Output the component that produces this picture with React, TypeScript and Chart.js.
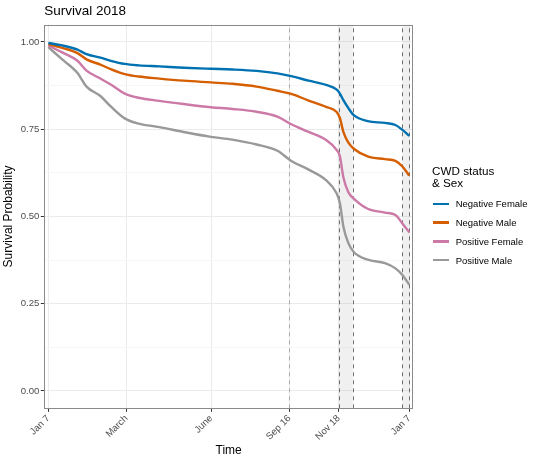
import React, { useEffect, useRef } from "react";
import { Chart, registerables } from "chart.js";

Chart.register(...registerables);

// ---- data (x in weeks since Jan 7, 2018) ----
const weeks = [0, 2, 4.2, 5.5, 7.5, 9, 11, 13, 16, 19.5, 23.4, 26.5, 30, 33, 35, 37.5, 40, 41.5, 42, 42.5, 43.2, 44, 46, 48.5, 50, 51, 52];
const negativeFemale = [0.997, 0.99, 0.978, 0.965, 0.955, 0.946, 0.937, 0.933, 0.93, 0.926, 0.923, 0.921, 0.917, 0.91, 0.902, 0.889, 0.877, 0.864, 0.852, 0.833, 0.811, 0.79, 0.773, 0.768, 0.762, 0.748, 0.731];
const negativeMale = [0.994, 0.983, 0.968, 0.95, 0.935, 0.922, 0.908, 0.901, 0.895, 0.889, 0.884, 0.88, 0.872, 0.86, 0.851, 0.832, 0.814, 0.8, 0.782, 0.742, 0.712, 0.694, 0.672, 0.664, 0.659, 0.643, 0.617];
const positiveFemale = [0.99, 0.97, 0.946, 0.918, 0.895, 0.878, 0.852, 0.84, 0.831, 0.822, 0.813, 0.808, 0.8, 0.786, 0.764, 0.742, 0.719, 0.691, 0.672, 0.612, 0.57, 0.551, 0.522, 0.511, 0.504, 0.48, 0.454];
const positiveMale = [0.985, 0.95, 0.911, 0.872, 0.845, 0.815, 0.781, 0.766, 0.756, 0.742, 0.728, 0.72, 0.706, 0.688, 0.659, 0.634, 0.604, 0.567, 0.538, 0.471, 0.424, 0.398, 0.376, 0.366, 0.351, 0.332, 0.304];

const seriesNames = ["Negative Female", "Negative Male", "Positive Female", "Positive Male"];
const seriesColors = ["#0072B2", "#D55E00", "#CC79A7", "#999999"];
const seriesValues = [negativeFemale, negativeMale, positiveFemale, positiveMale];

const xTickValues = [0, 11.24, 23.44, 34.72, 41.83, 52];
const xTickLabels = ["Jan 7", "March", "June", "Sep 16", "Nov 18", "Jan 7"];
const yTickValues = [0, 0.125, 0.25, 0.375, 0.5, 0.625, 0.75, 0.875, 1];

const lightLines = [34.72];
const darkLines = [41.83, 43.85, 51.0, 52.0];
const bandStarts = [41.83, 51.0];
const bandEnds = [43.85, 52.0];

const FONT = "'Liberation Sans', Arial, Helvetica, sans-serif";

const isMajor = (v: number) => Math.abs(v * 4 - Math.round(v * 4)) < 1e-9;

const annotationPlugin = {
  id: "annots",
  beforeDatasetsDraw(chart: any) {
    const { ctx, chartArea, scales } = chart;
    const x = scales.x;
    ctx.save();
    ctx.beginPath();
    ctx.rect(chartArea.left, chartArea.top, chartArea.right - chartArea.left, chartArea.bottom - chartArea.top);
    ctx.clip();
    ctx.fillStyle = "rgba(150,150,150,0.14)";
    bandStarts.forEach((s, i) => {
      const a = x.getPixelForValue(s);
      const b = x.getPixelForValue(bandEnds[i]);
      ctx.fillRect(a, chartArea.top, b - a, chartArea.bottom - chartArea.top);
    });
    ctx.lineWidth = 1;
    ctx.setLineDash([4, 4]);
    const drawV = (v: number, color: string) => {
      const px = Math.round(x.getPixelForValue(v)) + 0.5;
      ctx.strokeStyle = color;
      ctx.beginPath();
      ctx.moveTo(px, chartArea.bottom);
      ctx.lineTo(px, chartArea.top);
      ctx.stroke();
    };
    lightLines.forEach((v) => drawV(v, "#a8a8a8"));
    darkLines.forEach((v) => drawV(v, "#6e6e6e"));
    ctx.restore();
  },
  afterDraw(chart: any) {
    const { ctx, chartArea } = chart;
    ctx.save();
    ctx.strokeStyle = "#8a8a8a";
    ctx.lineWidth = 1;
    ctx.strokeRect(
      Math.round(chartArea.left) + 0.5,
      Math.round(chartArea.top) + 0.5,
      Math.round(chartArea.right - chartArea.left) - 1,
      Math.round(chartArea.bottom - chartArea.top) - 1
    );
    ctx.restore();
  },
};

export default function App() {
  const ref = useRef<HTMLCanvasElement | null>(null);

  useEffect(() => {
    if (!ref.current) return;
    const chart = new Chart(ref.current, {
      type: "line",
      data: {
        datasets: seriesNames.map((name, i) => ({
          label: name,
          data: weeks.map((w, j) => ({ x: w, y: seriesValues[i][j] })),
          borderColor: seriesColors[i],
          backgroundColor: seriesColors[i],
          borderWidth: 2.4,
          pointRadius: 0,
          cubicInterpolationMode: "monotone" as const,
          fill: false,
        })),
      },
      options: {
        animation: false,
        responsive: false,
        devicePixelRatio: 1,
        layout: { padding: { top: 24.5, right: 127, bottom: 0, left: 0 } },
        plugins: {
          legend: { display: false },
          tooltip: { enabled: false },
          title: { display: false },
        },
        scales: {
          x: {
            type: "linear",
            min: -0.58,
            max: 52.53,
            afterFit: (s: any) => {
              s.height = 54.7;
            },
            afterBuildTicks: (s: any) => {
              s.ticks = xTickValues.map((v) => ({ value: v }));
            },
            border: { display: false },
            grid: {
              color: "#ebebeb",
              lineWidth: 1,
              tickLength: 3.5,
              tickColor: "#333333",
            },
            ticks: {
              autoSkip: false,
              minRotation: 45,
              maxRotation: 45,
              padding: 1,
              color: "#4d4d4d",
              font: { family: FONT, size: 9.6 },
              callback: (v: any) => {
                const i = xTickValues.findIndex((t) => Math.abs(t - Number(v)) < 1e-6);
                return i >= 0 ? xTickLabels[i] : "";
              },
            },
            title: {
              display: true,
              text: "Time",
              color: "#000000",
              font: { family: FONT, size: 12 },
              padding: { top: 0, bottom: 4.8 },
            },
          },
          y: {
            type: "linear",
            min: -0.05,
            max: 1.05,
            afterFit: (s: any) => {
              s.width = 44.3;
            },
            afterBuildTicks: (s: any) => {
              s.ticks = yTickValues.map((v) => ({ value: v }));
            },
            border: { display: false },
            grid: {
              color: (c: any) => (c.tick && isMajor(c.tick.value) ? "#ebebeb" : "#f6f6f6"),
              lineWidth: 1,
              tickLength: 3.5,
              tickColor: (c: any) => (c.tick && isMajor(c.tick.value) ? "#333333" : "rgba(0,0,0,0)"),
            },
            ticks: {
              autoSkip: false,
              padding: 1.5,
              color: "#4d4d4d",
              font: { family: FONT, size: 9.6 },
              callback: (v: any) => (isMajor(Number(v)) ? Number(v).toFixed(2) : ""),
            },
            title: {
              display: true,
              text: "Survival Probability",
              color: "#000000",
              font: { family: FONT, size: 12 },
              padding: { top: 1, bottom: 0 },
            },
          },
        },
      },
      plugins: [annotationPlugin],
    });
    return () => chart.destroy();
  }, []);

  return (
    <div style={{ position: "absolute", left: 0, top: 0, width: 540, height: 463, background: "#fff", fontFamily: FONT }}>
      <canvas ref={ref} width={540} height={463} style={{ width: 540, height: 463, display: "block" }} />
      <div style={{ position: "absolute", left: 44.3, top: 3, fontSize: 13.5, lineHeight: "16px", color: "#000" }}>
        Survival 2018
      </div>
      <div style={{ position: "absolute", left: 432, top: 164.5, fontSize: 11.7, lineHeight: "12.6px", color: "#000" }}>
        <div>CWD status</div>
        <div>&amp; Sex</div>
      </div>
      <div style={{ position: "absolute", left: 432, top: 194.65 }}>
        {seriesNames.map((n, i) => (
          <div key={n} style={{ display: "flex", alignItems: "center", height: 18.7 }}>
            <div style={{ width: 16, height: 2.5, background: seriesColors[i], marginLeft: 1 }} />
            <div style={{ marginLeft: 6.7, fontSize: 9.5, color: "#000", whiteSpace: "nowrap" }}>{n}</div>
          </div>
        ))}
      </div>
    </div>
  );
}
